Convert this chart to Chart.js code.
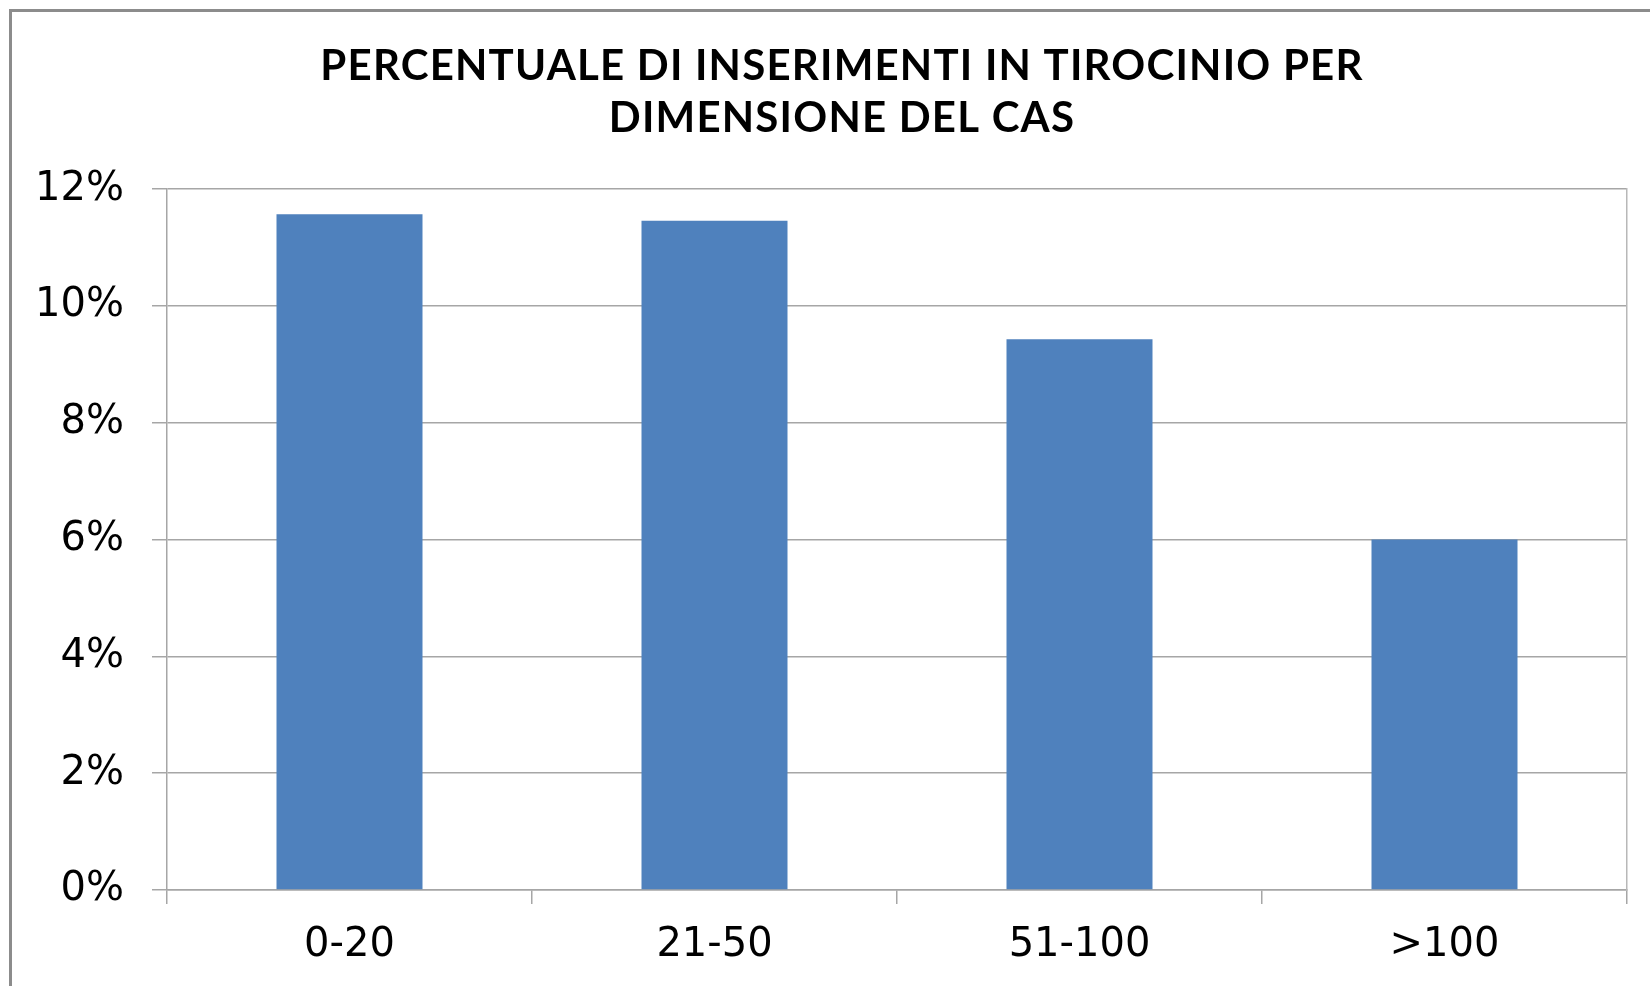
<!DOCTYPE html>
<html>
<head>
<meta charset="utf-8">
<script src="https://cdn.jsdelivr.net/npm/chart.js@4"></script>
<style>
  html, body { margin: 0; padding: 0; background: #fff; overflow: hidden; width: 1650px; height: 986px; }
  #frame { position: absolute; left: 9px; top: 9px; width: 1720px; height: 1100px; border: 3px solid #8c8c8c; box-sizing: border-box; }
  #wrap { position: absolute; left: 0; top: 0; width: 1700px; height: 986px; }
</style>
</head>
<body>
<div id="frame"></div>
<div id="wrap"><canvas id="c" width="1700" height="986"></canvas></div>
<script>
const categories = ['0-20', '21-50', '51-100', '>100'];
const values = [11.57, 11.46, 9.43, 6.0];
const yMin = 0;
const yMax = 12;
const yStep = 2;
const titleLines = ['PERCENTUALE DI INSERIMENTI IN TIROCINIO PER', 'DIMENSIONE DEL CAS'];

const gridGray = '#a6a6a6';
const tickFont = { family: '"DejaVu Sans", sans-serif', size: 40, weight: 'normal' };

const chart = new Chart(document.getElementById('c'), {
  type: 'bar',
  data: {
    labels: categories,
    datasets: [{
      data: values,
      backgroundColor: '#4f81bd',
      borderWidth: 0,
      categoryPercentage: 1.0,
      barPercentage: 0.4
    }]
  },
  options: {
    responsive: false,
    animation: false,
    devicePixelRatio: 1,
    layout: { padding: { left: 10, right: 26, top: 10, bottom: 0 } },
    plugins: {
      legend: { display: false },
      tooltip: { enabled: false },
      title: {
        display: true,
        text: titleLines,
        color: '#000',
        font: { family: 'Lato, sans-serif', size: 42, weight: 'bold', lineHeight: 1.24 },
        padding: { top: 30, bottom: 45 }
      }
    },
    scales: {
      x: {
        offset: true,
        grid: {
          offset: true,
          display: true,
          drawOnChartArea: true,
          color: 'rgba(0,0,0,0)',
          tickColor: gridGray,
          tickLength: 14,
          lineWidth: 1.5
        },
        border: { display: true, color: gridGray, width: 1.5 },
        ticks: { color: '#000', font: tickFont, padding: 18, maxRotation: 0 },
        afterFit: (s) => { s.height = 96; }
      },
      y: {
        min: yMin,
        max: yMax,
        ticks: {
          stepSize: yStep,
          color: '#000',
          font: tickFont,
          padding: 28,
          callback: (v) => v + '%'
        },
        grid: { color: gridGray, tickColor: gridGray, tickLength: 15, lineWidth: 1.5 },
        border: { display: true, color: gridGray, width: 1.5 },
        afterFit: (s) => { s.width = 157; }
      },
      y2: {
        position: 'right',
        min: yMin,
        max: yMax,
        ticks: { display: false },
        grid: { drawOnChartArea: false, drawTicks: false },
        border: { display: true, color: '#b8b8b8', width: 1.5 },
        afterFit: (s) => { s.width = 47; }
      }
    }
  }
});

// letter-spaced title, as in the reference
const tb = chart.titleBlock;
if (tb) {
  const origDraw = tb.draw.bind(tb);
  tb.draw = function (area) {
    const ctx = this.ctx;
    const prev = ctx.letterSpacing;
    ctx.letterSpacing = '1.2px';
    origDraw(area);
    ctx.letterSpacing = prev || '0px';
  };
  chart.draw();
}
</script>
</body>
</html>
